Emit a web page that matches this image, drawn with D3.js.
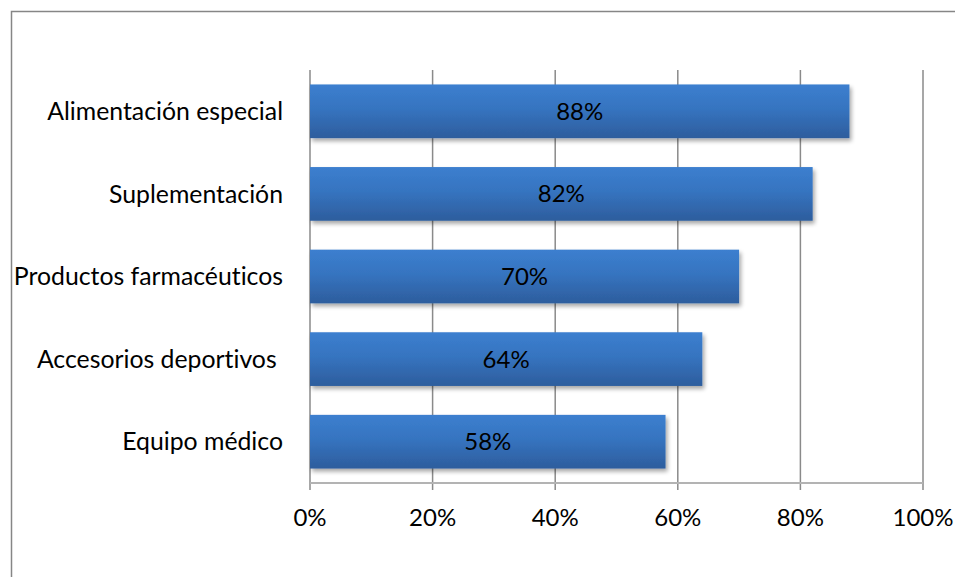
<!DOCTYPE html>
<html>
<head>
<meta charset="utf-8">
<script src="https://cdn.jsdelivr.net/npm/d3@7"></script>
<style>
  html, body { margin: 0; padding: 0; background: #fff; }
  svg text { font-family: Lato, "Open Sans", sans-serif; fill: #000; white-space: pre; font-variant-ligatures: none; }
</style>
</head>
<body>
<svg id="chart" width="955" height="577"></svg>
<script>
// Product categories and the share of respondents for each
const categories = [
  "Alimentación especial",
  "Suplementación",
  "Productos farmacéuticos",
  "Accesorios deportivos ",
  "Equipo médico"
];
const values = [0.88, 0.82, 0.70, 0.64, 0.58];
const ticks = [0, 0.2, 0.4, 0.6, 0.8, 1.0];

const svg = d3.select("#chart");
const plot = { left: 310, right: 923, top: 70, bottom: 483 };
const fontSize = 24;
const categoryFontSize = 24.8;

// Outer chart frame (right and bottom edges run past the page)
svg.append("rect")
  .attr("x", 11.5).attr("y", 11.5)
  .attr("width", 1000).attr("height", 1000)
  .attr("fill", "none").attr("stroke", "#868686").attr("stroke-width", 1.5);

const x = d3.scaleLinear().domain([0, 1]).range([plot.left, plot.right]);
const y = d3.scaleBand().domain(categories).range([plot.top, plot.bottom]).paddingInner(0.35).paddingOuter(0.175);

const defs = svg.append("defs");
const grad = defs.append("linearGradient").attr("id", "barFill")
  .attr("x1", 0).attr("y1", 0).attr("x2", 0).attr("y2", 1);
grad.append("stop").attr("offset", "0%").attr("stop-color", "#3c7fcf");
grad.append("stop").attr("offset", "45%").attr("stop-color", "#3674c0");
grad.append("stop").attr("offset", "100%").attr("stop-color", "#2d5d9d");

const shadow = defs.append("filter").attr("id", "barShadow")
  .attr("x", "-5%").attr("y", "-20%").attr("width", "115%").attr("height", "160%");
shadow.append("feGaussianBlur").attr("in", "SourceAlpha").attr("stdDeviation", 2.2);
shadow.append("feOffset").attr("dx", 2).attr("dy", 3).attr("result", "off");
shadow.append("feComponentTransfer").append("feFuncA").attr("type", "linear").attr("slope", 0.35);
const merge = shadow.append("feMerge");
merge.append("feMergeNode");
merge.append("feMergeNode").attr("in", "SourceGraphic");

// Vertical gridlines with tick marks below the axis
svg.append("g")
  .selectAll("line")
  .data(ticks)
  .join("line")
  .attr("x1", d => x(d)).attr("x2", d => x(d))
  .attr("y1", plot.top).attr("y2", plot.bottom + 7)
  .attr("stroke", "#8a8a8a").attr("stroke-width", 1.5);

// Horizontal value axis line
svg.append("line")
  .attr("x1", plot.left).attr("x2", plot.right)
  .attr("y1", plot.bottom).attr("y2", plot.bottom)
  .attr("stroke", "#b3b3b3").attr("stroke-width", 2);

// Tick labels
svg.append("g")
  .selectAll("text")
  .data(ticks)
  .join("text")
  .attr("x", d => x(d)).attr("y", 526)
  .attr("text-anchor", "middle")
  .attr("font-size", fontSize)
  .text(d3.format(".0%"));

// Bars
svg.append("g")
  .selectAll("rect")
  .data(values)
  .join("rect")
  .attr("x", x(0))
  .attr("y", (d, i) => y(categories[i]))
  .attr("width", d => x(d) - x(0))
  .attr("height", y.bandwidth())
  .attr("fill", "url(#barFill)")
  .attr("filter", "url(#barShadow)");

// Value labels centered in each bar
svg.append("g")
  .selectAll("text")
  .data(values)
  .join("text")
  .attr("x", d => (x(0) + x(d)) / 2)
  .attr("y", (d, i) => y(categories[i]) + y.bandwidth() / 2)
  .attr("dy", "0.35em")
  .attr("text-anchor", "middle")
  .attr("font-size", fontSize)
  .text(d3.format(".0%"));

// Category labels
svg.append("g")
  .selectAll("text")
  .data(categories)
  .join("text")
  .attr("x", 283)
  .attr("y", d => y(d) + y.bandwidth() / 2)
  .attr("dy", "0.35em")
  .attr("text-anchor", "end")
  .attr("font-size", categoryFontSize)
  .text(d => d);
</script>
</body>
</html>
